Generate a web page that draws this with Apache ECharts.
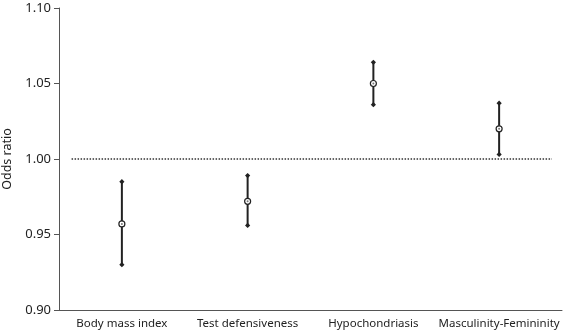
<!DOCTYPE html>
<html>
<head>
<meta charset="utf-8">
<script src="https://cdn.jsdelivr.net/npm/echarts@6/dist/echarts.min.js"></script>
<style>
  html, body { margin: 0; padding: 0; background: #fff; }
  #chart { width: 568px; height: 335px; }
</style>
</head>
<body>
<div id="chart"></div>
<script>
var categories = ['Body mass index', 'Test defensiveness', 'Hypochondriasis', 'Masculinity-Femininity'];
var oddsRatio = [0.957, 0.972, 1.050, 1.020];
var lowerCI = [0.930, 0.956, 1.036, 1.003];
var upperCI = [0.985, 0.989, 1.064, 1.037];
var refValue = 1.00;

var ink = '#222';
var font = '"Noto Sans", "Open Sans", sans-serif';

var barData = categories.map(function (c, i) {
    return [i, oddsRatio[i], lowerCI[i], upperCI[i]];
});

function renderBar(params, api) {
    var x = api.value(0);
    var mid = api.coord([x, api.value(1)]);
    var lo = api.coord([x, api.value(2)]);
    var hi = api.coord([x, api.value(3)]);
    var d = 2.6;
    function diamond(p) {
        return {
            type: 'polygon',
            shape: { points: [[p[0], p[1] - d], [p[0] + d, p[1]], [p[0], p[1] + d], [p[0] - d, p[1]]] },
            style: { fill: ink }
        };
    }
    return {
        type: 'group',
        children: [
            { type: 'line', shape: { x1: lo[0], y1: lo[1], x2: hi[0], y2: hi[1] }, style: { stroke: ink, lineWidth: 2 } },
            diamond(lo),
            diamond(hi),
            { type: 'circle', shape: { cx: mid[0], cy: mid[1], r: 3 }, style: { fill: '#fff', stroke: ink, lineWidth: 1.2 } },
            { type: 'circle', shape: { cx: mid[0], cy: mid[1], r: 1 }, style: { fill: '#777' } }
        ]
    };
}

var chart = echarts.init(document.getElementById('chart'));
chart.setOption({
    animation: false,
    backgroundColor: '#fff',
    grid: { left: 59, right: 6, top: 8, bottom: 25, outerBoundsMode: 'none', containLabel: false },
    xAxis: [{
        type: 'category',
        data: categories,
        boundaryGap: true,
        axisLine: { lineStyle: { color: '#555', width: 1 } },
        axisTick: { alignWithLabel: true, inside: true, length: 4, lineStyle: { color: '#555' } },
        axisLabel: { color: '#222', fontSize: 11.5, fontFamily: font, margin: 8, interval: 0 }
    }, {
        type: 'value',
        min: 0,
        max: 4,
        show: false
    }],
    yAxis: {
        type: 'value',
        min: 0.90,
        max: 1.10,
        interval: 0.05,
        name: 'Odds ratio',
        nameLocation: 'middle',
        nameGap: 42,
        nameTextStyle: { color: '#222', fontSize: 12.5, fontFamily: font },
        axisLine: { show: true, lineStyle: { color: '#555', width: 1 } },
        axisTick: { show: true, length: 5, lineStyle: { color: '#555' } },
        splitLine: { show: false },
        axisLabel: {
            color: '#222', fontSize: 13, fontFamily: font, margin: 8,
            formatter: function (v) { return v.toFixed(2); }
        }
    },
    series: [{
        type: 'line',
        xAxisIndex: 1,
        data: [[0.1, refValue], [3.92, refValue]],
        symbol: 'none',
        lineStyle: { color: '#333', width: 1.5, type: [1.5, 1.5] },
        silent: true
    }, {
        type: 'custom',
        xAxisIndex: 0,
        data: barData,
        renderItem: renderBar,
        encode: { x: 0, y: [1, 2, 3] }
    }]
});
</script>
</body>
</html>
